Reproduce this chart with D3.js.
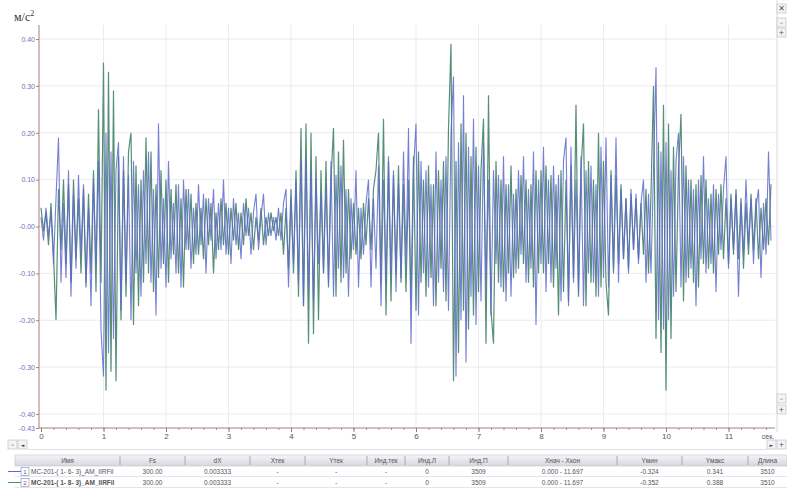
<!DOCTYPE html>
<html>
<head>
<meta charset="utf-8">
<script src="https://cdn.jsdelivr.net/npm/d3@7"></script>
<style>
    body { margin: 0; background: #fff; }
    svg { display: block; font-family: "Liberation Sans", Arial, sans-serif; }
</style>
</head>
<body>
<svg id="chart" width="787" height="491"></svg>
<script>
// sampling step of the hand-read series (sec)
const dt = 0.04;
const xEnd = 11.697;

// series 1 (blue), 25 samples per second
const blueValues = [
    0.02, -0.03, 0.04, -0.02, 0.03, -0.08, 0.06, 0.19, -0.12, 0.05, -0.11, 0.12, -0.15, 0.07, -0.09, 0.11, -0.06, 0.09, -0.12, 0.04, -0.17, 0.10, -0.08, 0.14, -0.22,
    -0.32, 0.20, -0.27, 0.16, -0.24, 0.12, 0.18, -0.18, 0.15, -0.12, 0.11, -0.20, 0.14, -0.10, 0.09, -0.15, 0.12, -0.08, 0.16, -0.12, 0.08, -0.19, 0.22, -0.09, 0.06,
    -0.13, 0.14, -0.07, 0.05, -0.10, 0.09, -0.13, 0.10, -0.05, 0.08, -0.09, 0.04, -0.06, 0.09, -0.04, 0.07, -0.10, 0.06, -0.03, 0.08, -0.07, 0.05, -0.05, 0.10, -0.06,
    0.04, -0.08, 0.06, -0.04, 0.03, -0.07, 0.05, -0.02, 0.04, -0.06, 0.03, 0.07, -0.05, 0.02, 0.07, -0.04, 0.03, -0.02, 0.02, -0.03, 0.04, -0.03, 0.05, 0.08, -0.13,
    0.06, -0.08, 0.10, -0.12, 0.14, -0.17, 0.15, -0.14, 0.12, -0.16, 0.10, -0.08, 0.07, -0.10, 0.09, -0.12, 0.14, -0.15, 0.11, -0.09, 0.13, -0.11, 0.08, -0.15, 0.06,
    -0.05, 0.12, -0.13, 0.04, -0.06, 0.05, 0.10, -0.13, 0.06, -0.09, 0.13, -0.17, 0.10, -0.12, 0.15, -0.10, 0.12, -0.14, 0.09, -0.11, 0.16, -0.08, 0.21, -0.25, 0.12,
    0.22, -0.19, 0.14, -0.10, 0.12, -0.13, 0.09, -0.17, 0.16, -0.12, 0.10, -0.14, 0.15, -0.18, 0.20, 0.32, -0.32, 0.18, -0.20, 0.28, -0.29, 0.17, -0.15, 0.23, -0.21,
    0.13, -0.16, 0.18, -0.12, 0.10, -0.19, 0.12, -0.08, 0.11, -0.13, 0.15, -0.16, 0.09, -0.15, 0.07, -0.10, 0.12, -0.06, 0.15, -0.12, 0.08, -0.09, 0.16, -0.21, 0.10,
    -0.08, 0.17, -0.14, 0.10, -0.12, 0.13, -0.09, 0.11, -0.16, 0.14, 0.19, -0.17, 0.17, -0.12, 0.10, -0.14, 0.15, -0.17, 0.12, -0.10, 0.13, -0.12, 0.09, -0.15, 0.17,
    -0.11, 0.19, -0.13, 0.11, -0.09, 0.19, -0.12, 0.08, -0.07, 0.06, -0.10, 0.08, -0.05, 0.07, -0.08, 0.05, 0.10, -0.12, 0.07, -0.10, 0.12, 0.34, -0.20, 0.16, -0.22,
    0.18, -0.20, 0.12, -0.15, 0.14, 0.20, -0.13, 0.15, -0.12, 0.10, -0.09, 0.08, -0.17, 0.10, -0.07, 0.15, -0.10, 0.06, -0.08, 0.09, -0.14, 0.07, -0.05, 0.08, 0.15,
    -0.09, 0.06, -0.05, 0.07, -0.15, 0.05, -0.06, 0.10, -0.04, 0.06, -0.08, 0.04, 0.08, -0.11, 0.05, -0.06, 0.16, -0.03
];

// series 2 (green)
const greenValues = [
    0.04, -0.01, 0.03, -0.04, 0.05, -0.06, -0.20, 0.08, -0.05, 0.10, -0.08, 0.09, -0.12, 0.10, -0.07, 0.06, -0.10, 0.08, -0.13, 0.07, -0.10, 0.12, -0.14, 0.25, -0.12,
    0.35, -0.35, 0.33, -0.31, 0.29, -0.33, 0.15, -0.20, 0.12, -0.15, 0.16, 0.20, -0.21, 0.13, -0.17, 0.10, -0.12, 0.19, -0.10, 0.16, -0.14, 0.09, -0.11, 0.12, -0.08,
    0.10, -0.12, 0.08, -0.06, 0.09, -0.10, 0.06, -0.13, 0.08, -0.05, 0.07, -0.08, 0.05, -0.06, 0.04, -0.07, 0.06, -0.04, 0.05, -0.10, 0.03, -0.05, 0.06, -0.04, 0.05,
    -0.06, 0.04, -0.03, 0.05, -0.05, 0.03, -0.04, 0.06, -0.02, 0.03, -0.05, 0.02, -0.03, 0.04, -0.04, 0.02, -0.02, 0.03, -0.01, 0.02, -0.02, 0.03, -0.06, 0.04, -0.09,
    0.08, -0.10, 0.12, -0.15, 0.21, -0.17, 0.22, -0.25, 0.20, -0.23, 0.15, -0.20, 0.12, -0.10, 0.14, -0.13, 0.10, 0.21, -0.15, 0.16, -0.12, 0.185, -0.10, 0.08, -0.07,
    0.05, -0.06, 0.04, -0.07, 0.05, -0.04, 0.06, -0.05, 0.08, 0.12, 0.20, -0.12, 0.23, -0.19, 0.14, -0.16, 0.11, -0.10, 0.13, -0.12, 0.09, -0.14, 0.10, -0.16, 0.15,
    -0.18, 0.16, -0.12, 0.10, -0.15, 0.13, -0.11, 0.09, -0.17, 0.12, -0.09, 0.14, -0.16, 0.21, 0.39, -0.33, 0.14, -0.27, 0.22, -0.18, 0.20, -0.22, 0.15, -0.19, 0.17,
    -0.14, 0.12, 0.23, -0.25, 0.28, -0.18, -0.25, 0.14, -0.12, 0.10, -0.14, 0.09, -0.10, 0.13, -0.11, 0.08, -0.09, 0.11, -0.08, 0.10, -0.12, 0.09, -0.13, 0.12, -0.10,
    0.12, -0.10, 0.13, -0.08, 0.11, -0.13, 0.09, -0.19, 0.12, -0.14, 0.10, -0.16, 0.13, -0.11, 0.26, -0.15, 0.12, 0.22, -0.17, 0.14, -0.12, 0.10, -0.15, 0.20, -0.13,
    0.14, -0.12, -0.19, 0.12, -0.10, 0.11, -0.08, 0.09, -0.07, 0.06, -0.09, 0.07, -0.05, 0.06, -0.07, 0.05, -0.06, 0.08, -0.10, 0.07, 0.30, -0.24, 0.18, -0.27, 0.26,
    -0.35, 0.22, -0.24, 0.17, -0.14, 0.12, 0.24, -0.16, 0.13, -0.11, 0.10, -0.12, 0.09, -0.13, 0.11, -0.08, 0.10, -0.09, 0.07, -0.10, 0.08, -0.06, 0.09, -0.07, 0.06,
    -0.08, 0.07, -0.06, 0.08, -0.07, 0.06, -0.09, 0.05, -0.06, 0.07, -0.05, 0.06, -0.07, 0.04, -0.05, 0.06, -0.04, 0.09
];

const xTickValues = [0, 1, 2, 3, 4, 5, 6, 7, 8, 9, 10, 11];
const yTickValues = [0.4, 0.3, 0.2, 0.1, 0, -0.1, -0.2, -0.3, -0.4, -0.43];
const yTickLabels = ['0.40', '0.30', '0.20', '0.10', '-0.00', '-0.10', '-0.20', '-0.30', '-0.40', '-0.43'];
const yGridValues = [0.4, 0.3, 0.2, 0.1, 0, -0.1, -0.2, -0.3, -0.4];

const tableHeaders = ['Имя', 'Fs', 'dX', 'Xтек', 'Yтек', 'Инд.тек', 'Инд.Л', 'Инд.П', 'Xнач - Xкон', 'Yмин', 'Yмакс', 'Длина'];
const row1 = ['MC-201-( 1- 6- 3)_AM_IIRFil', '300.00', '0.003333', '-', '-', '-', '0', '3509', '0.000 - 11.697', '-0.324', '0.341', '3510'];
const row2 = ['MC-201-( 1- 8- 3)_AM_IIRFil', '300.00', '0.003333', '-', '-', '-', '0', '3509', '0.000 - 11.697', '-0.352', '0.388', '3510'];

const blue = '#5f68cc';
const green = '#558f78';
const axisColor = '#b27a7a';

const svg = d3.select('#chart');

const plot = { left: 39, right: 775, top: 25, bottom: 428 };

const x = d3.scaleLinear().domain([0, xEnd]).range([41, 41 + xEnd * 62.5]);
const y = d3.scaleLinear().domain([-0.43, 0.43]).range([plot.bottom, plot.top]);

// unit label
svg.append('text')
    .attr('x', 14)
    .attr('y', 21)
    .attr('font-family', '"Liberation Serif", "DejaVu Serif", serif')
    .attr('font-size', 12)
    .attr('fill', '#333')
    .text('м/с')
    .append('tspan')
    .attr('dy', -5)
    .attr('font-size', 8)
    .text('2');

// grid
const grid = svg.append('g').attr('id', 'grid');
grid.selectAll('line.vg')
    .data(xTickValues.slice(1))
    .enter()
    .append('line')
    .attr('class', 'vg')
    .attr('x1', d => x(d)).attr('x2', d => x(d))
    .attr('y1', plot.top).attr('y2', plot.bottom)
    .attr('stroke', '#ebebf0');
grid.selectAll('line.hg')
    .data(yGridValues)
    .enter()
    .append('line')
    .attr('class', 'hg')
    .attr('x1', plot.left).attr('x2', plot.right)
    .attr('y1', d => y(d)).attr('y2', d => y(d))
    .attr('stroke', '#ebebf0');

// signals
svg.append('clipPath').attr('id', 'clip')
    .append('rect')
    .attr('x', plot.left + 1).attr('y', plot.top)
    .attr('width', plot.right - plot.left).attr('height', plot.bottom - plot.top);

const line = d3.line()
    .x((d, i) => x(i * dt))
    .y(d => y(d));

const lines = svg.append('g').attr('clip-path', 'url(#clip)');
lines.append('path')
    .datum(greenValues)
    .attr('fill', 'none')
    .attr('stroke', green)
    .attr('stroke-width', 1.2)
    .attr('d', line);
lines.append('path')
    .datum(blueValues)
    .attr('fill', 'none')
    .attr('stroke', blue)
    .attr('stroke-width', 1.1)
    .attr('stroke-opacity', 0.85)
    .attr('d', line);

// y axis
const yAxis = svg.append('g')
    .attr('transform', `translate(${plot.left},0)`)
    .call(d3.axisLeft(y).tickValues(yTickValues).tickFormat((d, i) => yTickLabels[i]).tickSize(3).tickSizeOuter(0));
yAxis.select('.domain').attr('stroke', axisColor);
yAxis.selectAll('.tick line').attr('stroke', axisColor);
yAxis.selectAll('.tick text')
    .attr('fill', '#7070bc')
    .attr('font-size', 7)
    .attr('x', -4);
yAxis.select('.domain').attr('d', `M0,${plot.top}V${plot.bottom}`);

// x axis, minor ticks first
svg.append('g')
    .attr('transform', `translate(0,${plot.bottom})`)
    .call(d3.axisBottom(x).tickValues(d3.range(0, 11.7, 0.2)).tickFormat('').tickSize(2))
    .call(g => g.select('.domain').remove())
    .selectAll('.tick line').attr('stroke', '#9a8fb0');

const xAxis = svg.append('g')
    .attr('transform', `translate(0,${plot.bottom})`)
    .call(d3.axisBottom(x).tickValues(xTickValues).tickFormat(d3.format('d')).tickSize(4).tickSizeOuter(0));
xAxis.select('.domain').attr('d', `M${plot.left},0H${plot.right}`).attr('stroke', axisColor);
xAxis.selectAll('.tick line').attr('stroke', '#8a7a9a');
xAxis.selectAll('.tick text')
    .attr('fill', '#555')
    .attr('font-size', 8)
    .attr('dy', '0.55em');

svg.append('text')
    .attr('x', 768)
    .attr('y', 439)
    .attr('text-anchor', 'middle')
    .attr('font-size', 7)
    .attr('fill', '#555')
    .text('сек.');

// right strip with buttons
svg.append('line')
    .attr('x1', 777).attr('x2', 777)
    .attr('y1', 0).attr('y2', 432)
    .attr('stroke', '#d8d8e0');

const button = (bx, by, label, size) => {
    svg.append('rect')
        .attr('x', bx).attr('y', by)
        .attr('width', 9).attr('height', 9)
        .attr('fill', '#f4f4f6')
        .attr('stroke', '#b8b8c4')
        .attr('stroke-width', 0.6);
    svg.append('text')
        .attr('x', bx + 4.5).attr('y', by + 7)
        .attr('text-anchor', 'middle')
        .attr('font-family', '"DejaVu Sans", sans-serif')
        .attr('font-size', size)
        .attr('fill', '#555')
        .text(label);
};
button(777, 4, '✕', 8);
button(777, 18, '–', 7);
button(777, 28, '+', 7);
button(777, 394, '–', 7);
button(777, 405, '+', 7);
button(8, 440, '–', 7);
button(18, 440, '◄', 5);
button(767, 440, '►', 5);
button(777, 440, '+', 7);

svg.append('line')
    .attr('x1', 28).attr('x2', 767)
    .attr('y1', 449.5).attr('y2', 449.5)
    .attr('stroke', '#e0e0e6');

// table
const colEdges = [15, 120, 185, 250, 305, 367, 405, 449, 508, 617, 682, 748, 787];
const headTop = 455, rowH = 11;

const grad = svg.append('defs').append('linearGradient')
    .attr('id', 'head').attr('x1', 0).attr('x2', 0).attr('y1', 0).attr('y2', 1);
grad.append('stop').attr('offset', 0).attr('stop-color', '#f4f4f8');
grad.append('stop').attr('offset', 1).attr('stop-color', '#d6d6de');

svg.append('rect')
    .attr('x', 15).attr('y', headTop)
    .attr('width', 772).attr('height', rowH)
    .attr('fill', 'url(#head)')
    .attr('stroke', '#c4c4cc')
    .attr('stroke-width', 0.6);

svg.selectAll('line.colsep')
    .data(colEdges.slice(1, -1))
    .enter()
    .append('line')
    .attr('class', 'colsep')
    .attr('x1', d => d).attr('x2', d => d)
    .attr('y1', headTop + 1).attr('y2', headTop + rowH - 1)
    .attr('stroke', '#a8a8b4');

svg.selectAll('text.head')
    .data(tableHeaders)
    .enter()
    .append('text')
    .attr('class', 'head')
    .attr('x', (d, i) => (colEdges[i] + colEdges[i + 1]) / 2)
    .attr('y', headTop + 8)
    .attr('text-anchor', 'middle')
    .attr('font-size', 6.5)
    .attr('fill', '#555')
    .text(d => d);

[row1, row2].forEach((row, r) => {
    const ry = headTop + rowH * (r + 1);
    const color = r === 0 ? blue : green;
    svg.append('line')
        .attr('x1', 8).attr('x2', 22)
        .attr('y1', ry + 5.5).attr('y2', ry + 5.5)
        .attr('stroke', color);
    svg.append('rect')
        .attr('x', 21).attr('y', ry + 1.5)
        .attr('width', 8).attr('height', 8)
        .attr('fill', '#fff')
        .attr('stroke', '#7a86b8')
        .attr('stroke-width', 0.6);
    svg.append('text')
        .attr('x', 25).attr('y', ry + 8.2)
        .attr('text-anchor', 'middle')
        .attr('font-size', 6)
        .attr('fill', '#4a5a9a')
        .text(r + 1);
    svg.selectAll(`text.r${r}`)
        .data(row)
        .enter()
        .append('text')
        .attr('class', `r${r}`)
        .attr('x', (d, i) => i === 0 ? 31 : (colEdges[i] + colEdges[i + 1]) / 2)
        .attr('y', ry + 8)
        .attr('text-anchor', (d, i) => i === 0 ? 'start' : 'middle')
        .attr('font-size', 6.5)
        .attr('font-weight', (d, i) => r === 1 && i === 0 ? 'bold' : 'normal')
        .attr('fill', '#555')
        .text(d => d);
    svg.append('line')
        .attr('x1', 15).attr('x2', 787)
        .attr('y1', ry + rowH - 0.5).attr('y2', ry + rowH - 0.5)
        .attr('stroke', '#e4e4ea');
});
</script>
</body>
</html>
